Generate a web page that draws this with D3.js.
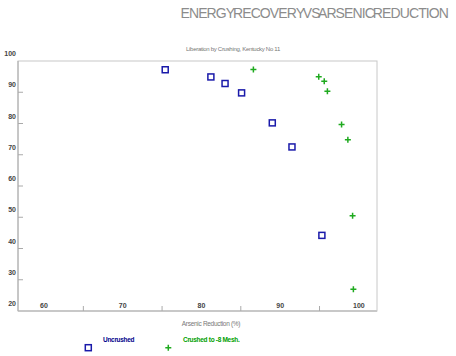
<!DOCTYPE html>
<html lang="en">
<head>
    <meta charset="UTF-8">
    <title>Energy Recovery vs Arsenic Reduction</title>
    <script src="https://d3js.org/d3.v7.min.js"></script>
    <style>
        body { margin: 0; background: #fff; }
        svg { display: block; font-family: "Liberation Sans", Arial, sans-serif; }
    </style>
</head>
<body>
    <div id="chart"></div>
    <script>
        // Arsenic reduction (%) vs energy recovery (%)
        const uncrushedX = [75.4, 81.2, 83.0, 85.1, 89.0, 91.5, 95.3];
        const uncrushedY = [97.2, 94.9, 92.8, 89.8, 80.2, 72.5, 44.2];
        const crushedX = [86.6, 94.9, 95.6, 96.0, 97.8, 98.6, 99.2, 99.3];
        const crushedY = [97.3, 95.0, 93.5, 90.3, 79.7, 74.8, 50.5, 27.0];
        const xTicks = [60, 70, 80, 90, 100];
        const xMinor = [65, 75, 85, 95];
        const yTicks = [20, 30, 40, 50, 60, 70, 80, 90, 100];

        const W = 456, H = 356;
        const plotL = 18, plotR = 377, plotT = 61, plotB = 311;

        const svg = d3.select("#chart").append("svg").attr("width", W).attr("height", H);

        const x = d3.scaleLinear().domain([56.7, 102.3]).range([plotL, plotR]);
        const y = d3.scaleLinear().domain([20, 100]).range([plotB, plotT]);

        // frame
        svg.append("rect")
            .attr("x", plotL).attr("y", plotT)
            .attr("width", plotR - plotL).attr("height", plotB - plotT)
            .attr("fill", "none").attr("stroke", "#c8c8c8").attr("stroke-width", 1);
        svg.append("line")
            .attr("x1", plotL).attr("x2", plotR).attr("y1", plotB).attr("y2", plotB)
            .attr("stroke", "#c8c8c8").attr("stroke-width", 2);
        svg.append("line")
            .attr("x1", plotL).attr("x2", plotL).attr("y1", plotT).attr("y2", plotB)
            .attr("stroke", "#aaa").attr("stroke-width", 1);

        // y ticks + labels
        svg.selectAll(".ytick").data(yTicks.slice(1, -1)).enter().append("line")
            .attr("x1", plotL).attr("x2", plotL + 5)
            .attr("y1", d => y(d)).attr("y2", d => y(d))
            .attr("stroke", "#aaa");
        svg.selectAll(".ylab").data(yTicks).enter().append("text")
            .attr("x", 16).attr("y", d => y(d) - 5)
            .attr("text-anchor", "end")
            .attr("font-size", 7).attr("font-weight", "bold").attr("fill", "#444")
            .text(d => d);

        // x ticks + labels
        svg.selectAll(".xtick").data(xMinor).enter().append("line")
            .attr("x1", d => x(d)).attr("x2", d => x(d))
            .attr("y1", plotB).attr("y2", plotB - 5)
            .attr("stroke", "#aaa");
        svg.selectAll(".xlab").data(xTicks).enter().append("text")
            .attr("x", d => x(d)).attr("y", plotB - 3)
            .attr("text-anchor", "middle")
            .attr("font-size", 7).attr("font-weight", "bold").attr("fill", "#444")
            .text(d => d);

        // titles
        svg.append("text")
            .attr("x", 448).attr("y", 18).attr("text-anchor", "end")
            .attr("font-size", 14).attr("fill", "#8c8c8c")
            .attr("letter-spacing", -0.9).attr("word-spacing", -4)
            .text("ENERGY RECOVERY VS ARSENIC REDUCTION");
        svg.append("text")
            .attr("x", 233).attr("y", 51).attr("text-anchor", "middle")
            .attr("font-size", 6).attr("fill", "#777").attr("letter-spacing", -0.3)
            .text("Liberation by Crushing, Kentucky No 11");
        svg.append("text")
            .attr("x", 211).attr("y", 326).attr("text-anchor", "middle")
            .attr("font-size", 6.5).attr("fill", "#777").attr("letter-spacing", -0.3)
            .text("Arsenic Reduction (%)");

        // marks
        const sq = 6;
        svg.selectAll(".unc").data(uncrushedX).enter().append("rect")
            .attr("x", d => x(d) - sq / 2).attr("y", (d, i) => y(uncrushedY[i]) - sq / 2)
            .attr("width", sq).attr("height", sq)
            .attr("fill", "none").attr("stroke", "#1a1aaa").attr("stroke-width", 1.5);

        svg.selectAll(".cr").data(crushedX).enter().append("path")
            .attr("d", "M-3,0H3M0,-3V3")
            .attr("transform", (d, i) => `translate(${x(d)},${y(crushedY[i])})`)
            .attr("stroke", "#1faa1f").attr("stroke-width", 1.5).attr("fill", "none");

        // legend
        svg.append("text")
            .attr("x", 103).attr("y", 342)
            .attr("font-size", 6.5).attr("font-weight", "bold").attr("fill", "#00008b")
            .attr("letter-spacing", -0.3)
            .text("Uncrushed");
        svg.append("rect")
            .attr("x", 88.3 - sq / 2).attr("y", 347.7 - sq / 2).attr("width", sq).attr("height", sq)
            .attr("fill", "none").attr("stroke", "#1a1aaa").attr("stroke-width", 1.5);
        svg.append("text")
            .attr("x", 183).attr("y", 342)
            .attr("font-size", 6.5).attr("font-weight", "bold").attr("fill", "#00a000")
            .attr("letter-spacing", -0.3)
            .text("Crushed to -8 Mesh.");
        svg.append("path")
            .attr("d", "M-3,0H3M0,-3V3")
            .attr("transform", "translate(168.3,347.7)")
            .attr("stroke", "#1faa1f").attr("stroke-width", 1.5);
    </script>
</body>
</html>
